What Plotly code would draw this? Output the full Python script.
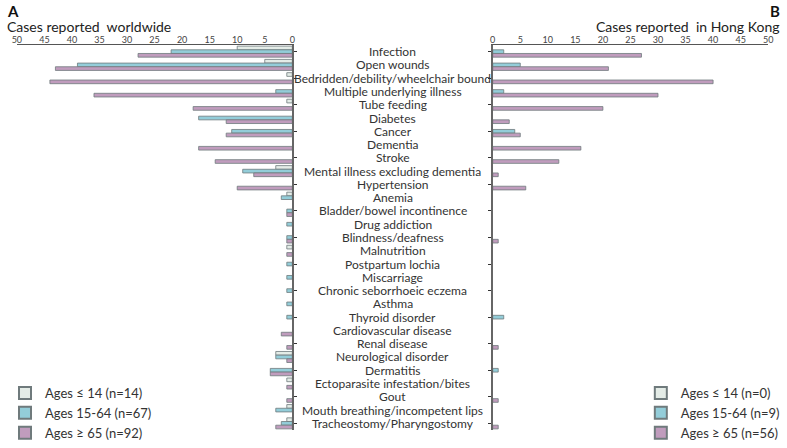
import plotly.graph_objects as go
from plotly.subplots import make_subplots

categories = [
    "Infection", "Open wounds", "Bedridden/debility/wheelchair bound",
    "Multiple underlying illness", "Tube feeding", "Diabetes", "Cancer",
    "Dementia", "Stroke", "Mental illness excluding dementia", "Hypertension",
    "Anemia", "Bladder/bowel incontinence", "Drug addiction", "Blindness/deafness",
    "Malnutrition", "Postpartum lochia", "Miscarriage", "Chronic seborrhoeic eczema",
    "Asthma", "Thyroid disorder", "Cardiovascular disease", "Renal disease",
    "Neurological disorder", "Dermatitis", "Ectoparasite infestation/bites", "Gout",
    "Mouth breathing/incompetent lips", "Tracheostomy/Pharyngostomy",
]

# Worldwide (panel A)
world_le14 = [10, 5, 1, 0, 1, 0, 0, 0, 0, 3, 0, 1, 0, 0, 0, 1, 0, 0, 0, 0, 0, 0, 0, 3, 0, 1, 0, 1, 1]
world_15_64 = [22, 39, 0, 3, 0, 17, 11, 0, 0, 9, 0, 2, 1, 1, 1, 0, 1, 1, 1, 1, 1, 0, 0, 3, 4, 0, 0, 3, 2]
world_ge65 = [28, 43, 44, 36, 18, 12, 12, 17, 14, 7, 10, 0, 1, 0, 1, 1, 0, 0, 0, 0, 0, 2, 1, 1, 4, 1, 1, 0, 3]

# Hong Kong (panel B)
hk_le14 = [0] * 29
hk_15_64 = [2, 5, 0, 2, 0, 0, 4, 0, 0, 0, 0, 0, 0, 0, 0, 0, 0, 0, 0, 0, 2, 0, 0, 0, 1, 0, 0, 0, 0]
hk_ge65 = [27, 21, 40, 30, 20, 3, 5, 16, 12, 1, 6, 0, 0, 0, 1, 0, 0, 0, 0, 0, 0, 0, 1, 0, 0, 0, 1, 0, 1]

world_names = ["Ages \u2264 14 (n=14)", "Ages 15-64 (n=67)", "Ages \u2265 65 (n=92)"]
hk_names = ["Ages \u2264 14 (n=0)", "Ages 15-64 (n=9)", "Ages \u2265 65 (n=56)"]
ticks = [0, 5, 10, 15, 20, 25, 30, 35, 40, 45, 50]

colors = ["#e4ece7", "#93cdd9", "#c09cbd"]
FONT = "Lato"

fig = make_subplots(rows=1, cols=2, shared_yaxes=False)

def nz(v):
    return [x if x else None for x in v]

for i, (vals, name) in enumerate(zip([world_le14, world_15_64, world_ge65], world_names)):
    fig.add_trace(go.Bar(
        y=categories, x=nz(vals), orientation="h", name=name,
        marker=dict(color=colors[i], line=dict(color="#6f7a7c", width=0.8)),
        legend="legend",
    ), row=1, col=1)

for i, (vals, name) in enumerate(zip([hk_le14, hk_15_64, hk_ge65], hk_names)):
    fig.add_trace(go.Bar(
        y=categories, x=nz(vals), orientation="h", name=name,
        marker=dict(color=colors[i], line=dict(color="#6f7a7c", width=0.8)),
        legend="legend2",
    ), row=1, col=2)

W, H = 787, 448
xl0, xl1 = 12 / W, 291 / W
xr0, xr1 = 494 / W, 773 / W
ytop, ybot = 1 - 45 / H, 1 - 430 / H

axis_common = dict(
    tickvals=ticks, ticktext=[str(t) for t in ticks], side="top",
    showline=True, linecolor="#555555", linewidth=1, ticks="", ticklabelstandoff=-3,
    tickfont=dict(family=FONT, size=9, color="#444444"),
    showgrid=False, zeroline=False,
)
fig.update_xaxes(range=[50, 0], domain=[xl0, xl1], **axis_common, row=1, col=1)
fig.update_xaxes(range=[0, 50], domain=[xr0, xr1], **axis_common, row=1, col=2)

yaxis_common = dict(
    categoryorder="array", categoryarray=categories, range=[28.5, -0.5],
    showticklabels=False, showline=True, linecolor="#666666", linewidth=1.5,
    ticks="outside", ticklen=3, tickcolor="#333333", showgrid=False,
    domain=[ybot, ytop],
)
fig.update_yaxes(side="right", **yaxis_common, row=1, col=1)
fig.update_yaxes(side="left", **yaxis_common, row=1, col=2)

annotations = []
for c in categories:
    annotations.append(dict(
        x=(291 + 494) / 2 / W, xref="paper", y=c, yref="y", text=c, showarrow=False,
        xanchor="center", yanchor="middle", borderpad=0,
        font=dict(family=FONT, size=12, color="#333333"),
    ))
annotations += [
    dict(x=0, y=1 - 11 / H, xref="paper", yref="paper", text="<b>A</b>", showarrow=False,
         xanchor="left", yanchor="middle", font=dict(family=FONT, size=15, color="#111111")),
    dict(x=0, y=1 - 26 / H, xref="paper", yref="paper", text="Cases reported  worldwide",
         showarrow=False, xanchor="left", yanchor="middle",
         font=dict(family=FONT, size=14, color="#222222")),
    dict(x=1, y=1 - 11 / H, xref="paper", yref="paper", text="<b>B</b>", showarrow=False,
         xanchor="right", yanchor="middle", font=dict(family=FONT, size=15, color="#111111")),
    dict(x=1, y=1 - 26 / H, xref="paper", yref="paper", text="Cases reported  in Hong Kong",
         showarrow=False, xanchor="right", yanchor="middle",
         font=dict(family=FONT, size=14, color="#222222")),
]

legend_common = dict(
    bgcolor="rgba(0,0,0,0)", font=dict(family=FONT, size=13, color="#333333"),
    traceorder="normal", tracegroupgap=0, itemsizing="constant",
    yanchor="top",
)

fig.update_layout(
    width=W, height=H, margin=dict(l=0, r=0, t=0, b=0),
    plot_bgcolor="white", paper_bgcolor="white",
    barmode="group", bargap=0.17, bargroupgap=0,
    annotations=annotations,
    legend=dict(x=0, y=1 - 378 / H, xanchor="left", **legend_common),
    legend2=dict(x=644 / W, y=1 - 378 / H, xanchor="left", **legend_common),
    showlegend=True,
)

fig.write_html("out.html", config={"displayModeBar": False},
               post_script="document.body.style.margin='0';")
